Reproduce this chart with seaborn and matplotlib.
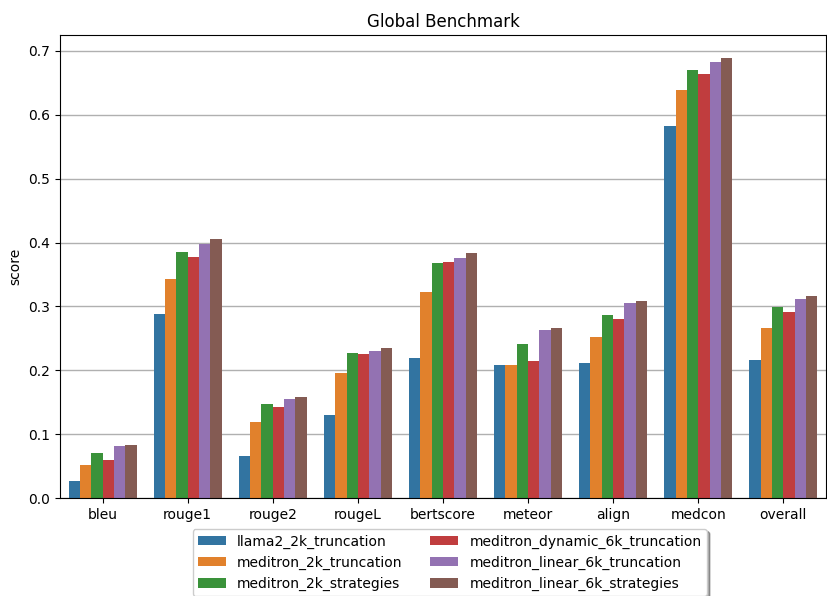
import numpy as np
import pandas as pd
import matplotlib
matplotlib.use("Agg")
import matplotlib.pyplot as plt
import seaborn as sns

metrics = ["bleu", "rouge1", "rouge2", "rougeL", "bertscore", "meteor", "align", "medcon", "overall"]
models = [
    "llama2_2k_truncation",
    "meditron_2k_truncation",
    "meditron_2k_strategies",
    "meditron_dynamic_6k_truncation",
    "meditron_linear_6k_truncation",
    "meditron_linear_6k_strategies",
]

llama2_2k_truncation = [0.027, 0.289, 0.066, 0.131, 0.219, 0.209, 0.211, 0.582, 0.216]
meditron_2k_truncation = [0.052, 0.343, 0.119, 0.196, 0.322, 0.208, 0.253, 0.639, 0.266]
meditron_2k_strategies = [0.071, 0.385, 0.147, 0.227, 0.368, 0.242, 0.286, 0.670, 0.299]
meditron_dynamic_6k_truncation = [0.060, 0.378, 0.142, 0.225, 0.369, 0.214, 0.280, 0.663, 0.291]
meditron_linear_6k_truncation = [0.082, 0.398, 0.155, 0.230, 0.376, 0.264, 0.305, 0.683, 0.312]
meditron_linear_6k_strategies = [0.084, 0.405, 0.158, 0.235, 0.383, 0.266, 0.308, 0.689, 0.317]

series = [
    llama2_2k_truncation,
    meditron_2k_truncation,
    meditron_2k_strategies,
    meditron_dynamic_6k_truncation,
    meditron_linear_6k_truncation,
    meditron_linear_6k_strategies,
]

rows = []
for model, vals in zip(models, series):
    for metric, v in zip(metrics, vals):
        rows.append({"metric": metric, "model": model, "score": v})
df = pd.DataFrame(rows)

fig = plt.figure(figsize=(8.27, 5.96), dpi=100)
ax = fig.add_axes([0.0726, 0.164, 0.926, 0.777])
sns.barplot(data=df, x="metric", y="score", hue="model", order=metrics,
            hue_order=models, palette="tab10", ax=ax)
ax.set_axisbelow(True)
ax.grid(axis="y", color="#b0b0b0", linewidth=1.0)
ax.set_xlabel("")
ax.set_ylabel("score")
ax.set_title("Global Benchmark")
ax.set_ylim(0, 0.7245)
ax.legend(loc="upper center", bbox_to_anchor=(0.509, -0.051), ncol=2,
          shadow=True, fontsize=10)
fig.savefig("out.png", dpi=100)
